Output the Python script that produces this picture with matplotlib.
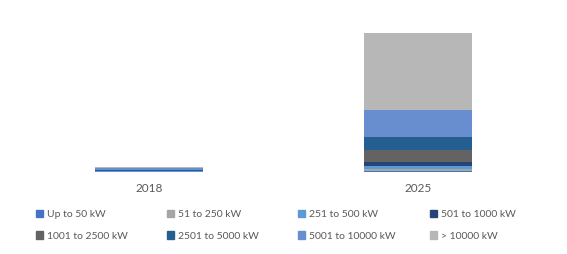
import numpy as np
import matplotlib.pyplot as plt
from matplotlib.patches import Patch

years = ['2018', '2025']
segments = ['Up to 50 kW', '51 to 250 kW', '251 to 500 kW', '501 to 1000 kW',
            '1001 to 2500 kW', '2501 to 5000 kW', '5001 to 10000 kW', '> 10000 kW']
colors = ['#4472C4', '#A5A5A5', '#5B9BD5', '#264478',
          '#636363', '#255E91', '#698ED0', '#B7B7B7']

# values (arbitrary units, stacked)
v2018 = [0.2, 0.2, 0.3, 0.5, 0.3, 1.0, 1.5, 0.6]
v2025 = [1.5, 2.0, 3.0, 4.0, 12.0, 12.5, 27.5, 76.5]
values = np.array([v2018, v2025])

plt.rcParams['font.family'] = ['Lato', 'DejaVu Sans']
text_col = '#595959'
fs = 7.5

fig = plt.figure(figsize=(5.67, 2.54), dpi=100)
base_y = 172
top_y = 10
ax = fig.add_axes([14.5 / 567, 1 - base_y / 254, 538 / 567, (base_y - top_y) / 254])

x = np.arange(len(years))
bottom = np.zeros(len(years))
for i, name in enumerate(segments):
    ax.bar(x, values[:, i], bottom=bottom, width=0.40, color=colors[i],
           label=name, linewidth=0)
    bottom += values[:, i]

total = values[1].sum()
ax.set_ylim(0, total * (base_y - top_y) / (base_y - 33))
ax.set_xlim(-0.5, 1.5)
ax.set_xticks(x)
ax.set_xticklabels(years, color=text_col, fontsize=8.5)
ax.tick_params(axis='x', length=0, pad=8)
ax.set_yticks([])
for s in ax.spines.values():
    s.set_visible(False)

# legend: 4 columns of 2 entries each
col_x = [36, 167, 298, 430]
for c in range(4):
    handles = [Patch(color=colors[c]), Patch(color=colors[c + 4])]
    labels = [segments[c], segments[c + 4]]
    leg = fig.legend(handles, labels, loc='upper left',
                     bbox_to_anchor=(col_x[c] / 567, 1 - 210 / 254),
                     frameon=False, fontsize=fs, handlelength=0.7,
                     handleheight=0.7, handletextpad=0.4, labelspacing=1.15,
                     borderpad=0, borderaxespad=0)
    for t in leg.get_texts():
        t.set_color(text_col)

fig.savefig('out.png', dpi=100)
